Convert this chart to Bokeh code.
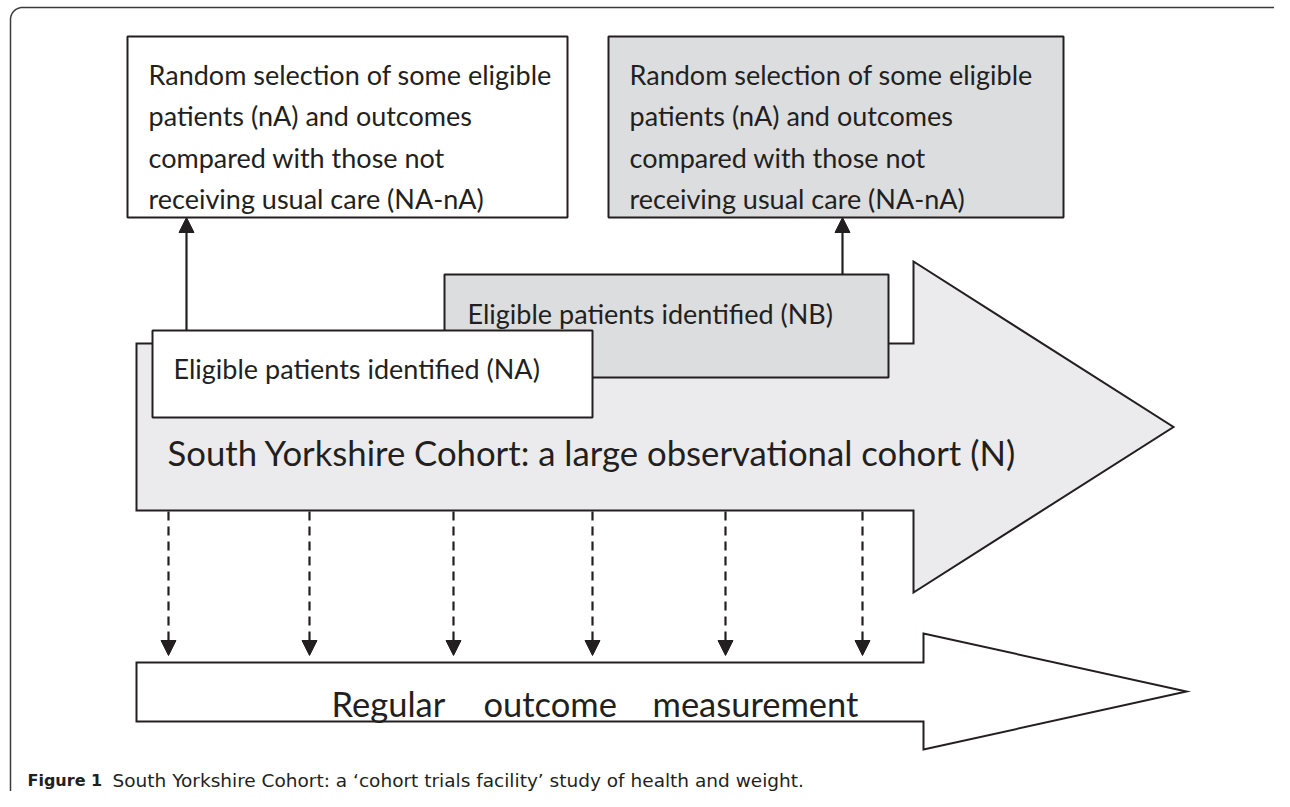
from bokeh.plotting import figure
from bokeh.models import Range1d, Arrow, NormalHead
from bokeh.core.properties import value
from bokeh.embed import file_html
from bokeh.resources import INLINE
import numpy as np

# ---------------- content ----------------
top_box_lines = ["Random selection of some eligible",
                 "patients (nA) and outcomes",
                 "compared with those not",
                 "receiving usual care (NA-nA)"]
na_label = "Eligible patients identified (NA)"
nb_label = "Eligible patients identified (NB)"
cohort_label = "South Yorkshire Cohort: a large observational cohort (N)"
outcome_words = ["Regular", "outcome", "measurement"]
caption_bold = "Figure 1"
caption_rest = "South Yorkshire Cohort: a \u2018cohort trials facility\u2019 study of health and weight."

# ---------------- layout (pixel space) ----------------
top_box_left = [127, 608]
top_box_right = [567, 1063]
top_box_top = 36
top_box_bottom = 217
top_box_fill = ["#ffffff", "#dcdddf"]
top_text_pad = 21
top_first_baseline = 74
top_line_gap = 41.3

mid_left = [444, 152]          # NB, NA
mid_right = [888, 592]
mid_top = [274, 330]
mid_bottom = [377, 417]
mid_fill = ["#dcdddf", "#ffffff"]
mid_text_x = [467, 173]
mid_text_base = [313, 368]

up_arrow_x = [186, 842]
up_arrow_from = [330, 274]
up_arrow_to = 217

big_arrow = dict(x0=136, top=343, bottom=510, hx=913, htop=261, hbot=592, tip=1173)
low_arrow = dict(x0=136, top=662, bottom=721, hx=923, htop=633, hbot=749, tip=1186)

dash_x = [168, 309, 453, 592, 725, 862]
dash_from = 511
dash_to = 655

cohort_x, cohort_base = 167, 452
outcome_x = [331, 483, 652]
outcome_base = 703
caption_x = [27, 112]
caption_base = 780

DARK = "#231f20"
W, H = 1274, 791

p = figure(width=W, height=H, x_range=Range1d(0, W), y_range=Range1d(H, 0),
           output_backend="svg", toolbar_location=None, min_border=0,
           x_axis_type=None, y_axis_type=None)
p.grid.visible = False
p.outline_line_color = None
p.background_fill_color = "white"
p.border_fill_color = "white"

# outer rounded frame
def rounded_rect(l, t, r, b, rad, n=12):
    xs, ys = [], []
    corners = [(r - rad, t + rad, -np.pi / 2, 0), (r - rad, b - rad, 0, np.pi / 2),
               (l + rad, b - rad, np.pi / 2, np.pi), (l + rad, t + rad, np.pi, 1.5 * np.pi)]
    for cx, cy, a0, a1 in corners:
        a = np.linspace(a0, a1, n)
        xs += list(cx + rad * np.cos(a))
        ys += list(cy + rad * np.sin(a))
    xs.append(xs[0]); ys.append(ys[0])
    return xs, ys

fx, fy = rounded_rect(10, 7, 1288, 805, 12)
p.line(fx, fy, line_color="#3a3a3a", line_width=1.5)

def arrow_shape(d):
    cy = (d["htop"] + d["hbot"]) / 2
    xs = [d["x0"], d["hx"], d["hx"], d["tip"], d["hx"], d["hx"], d["x0"]]
    ys = [d["top"], d["top"], d["htop"], cy, d["hbot"], d["bottom"], d["bottom"]]
    return xs, ys

# big cohort arrow
bx, by = arrow_shape(big_arrow)
p.patch(bx, by, fill_color="#ebebed", line_color=DARK, line_width=2, line_join="miter")

# lower outcome arrow
lx, ly = arrow_shape(low_arrow)
p.patch(lx, ly, fill_color="#ffffff", line_color=DARK, line_width=2, line_join="miter")

# top boxes
p.quad(left=top_box_left, right=top_box_right, top=[top_box_top] * 2, bottom=[top_box_bottom] * 2,
       fill_color=top_box_fill, line_color=DARK, line_width=2)

# NB and NA boxes
p.quad(left=mid_left, right=mid_right, top=mid_top, bottom=mid_bottom,
       fill_color=mid_fill, line_color=DARK, line_width=2)

# solid up arrows
for x, y0 in zip(up_arrow_x, up_arrow_from):
    p.add_layout(Arrow(end=NormalHead(size=15, fill_color=DARK, line_color=DARK, line_width=1),
                       x_start=x, y_start=y0, x_end=x, y_end=up_arrow_to,
                       line_color=DARK, line_width=2.2))

# dashed down arrows
for x in dash_x:
    p.add_layout(Arrow(end=NormalHead(size=15, fill_color=DARK, line_color=DARK, line_width=1),
                       x_start=x, y_start=dash_from, x_end=x, y_end=dash_to,
                       line_color=DARK, line_width=2.2, line_dash="9 6"))

# box texts
FONT = value("Lato")
tx, ty, tt = [], [], []
for left in top_box_left:
    for i, line in enumerate(top_box_lines):
        tx.append(left + top_text_pad)
        ty.append(top_first_baseline + i * top_line_gap)
        tt.append(line)
p.text(x=tx, y=ty, text=tt, text_font=FONT, text_font_size="27px",
       text_baseline="alphabetic", text_color=DARK)

p.text(x=mid_text_x, y=mid_text_base, text=[nb_label, na_label], text_font=FONT,
       text_font_size="27px", text_baseline="alphabetic", text_color=DARK)

p.text(x=[cohort_x], y=[cohort_base], text=[cohort_label], text_font=FONT,
       text_font_size="34.7px", text_baseline="alphabetic", text_color=DARK)

p.text(x=outcome_x, y=[outcome_base] * 3, text=outcome_words, text_font=FONT,
       text_font_size="34.5px", text_baseline="alphabetic", text_color=DARK)

# caption
p.text(x=[caption_x[0]], y=[caption_base], text=[caption_bold], text_font=value("DejaVu Sans"),
       text_font_size="16px", text_font_style="bold", text_baseline="alphabetic", text_color=DARK)
p.text(x=[caption_x[1]], y=[caption_base], text=[caption_rest], text_font=value("DejaVu Sans"),
       text_font_size="18.5px", text_baseline="alphabetic", text_color=DARK)

open("out.html", "w").write(file_html(p, INLINE))
